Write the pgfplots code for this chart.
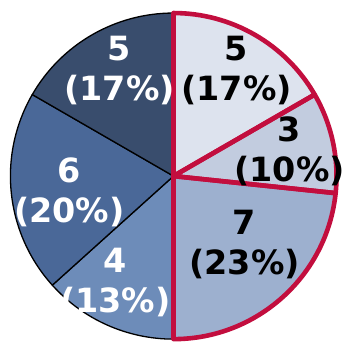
\documentclass[border=0pt]{standalone}
\usepackage{pgfplots}
\usepackage{pgfplotstable}
\pgfplotsset{compat=1.18}
\usepackage{fontspec}
\setmainfont{DejaVu Sans}

\definecolor{pie0}{HTML}{DDE3EE}
\definecolor{pie1}{HTML}{C2CCDF}
\definecolor{pie2}{HTML}{9DB0CF}
\definecolor{pie3}{HTML}{6D8CB9}
\definecolor{pie4}{HTML}{4A6898}
\definecolor{pie5}{HTML}{394D6D}
\definecolor{crimson}{HTML}{C20E3E}

% slice values, clockwise from 12 o'clock; label centre (lx,ly) in radii,
% hl = 1 for the outlined group
\pgfplotstableread{
value lx     ly     hl
5      0.387  0.650 1
3      0.712  0.150 1
7      0.436 -0.420 1
4     -0.356 -0.655 0
6     -0.638 -0.100 0
5     -0.331  0.645 0
}\piedata

\newcommand\pieR{163bp}

\begin{document}
\begin{tikzpicture}
% cumulative angles and shares, computed from the table
\pgfplotstablegetrowsof{\piedata}
\pgfmathtruncatemacro\pieN{\pgfplotsretval-1}
\def\pieTotal{0}
\pgfplotsforeachungrouped \i in {0,...,\pieN}{%
  \pgfplotstablegetelem{\i}{value}\of\piedata
  \pgfmathsetmacro\pieTotal{\pieTotal+\pgfplotsretval}%
}
\def\pieAngle{90}
\pgfplotsforeachungrouped \i in {0,...,\pieN}{%
  \pgfplotstablegetelem{\i}{value}\of\piedata \let\pieVal\pgfplotsretval
  \pgfmathsetmacro\pieEnd{\pieAngle-360*\pieVal/\pieTotal}%
  \pgfmathtruncatemacro\piePct{round(100*\pieVal/\pieTotal)}%
  \expandafter\xdef\csname pieS\i\endcsname{\pieAngle}%
  \expandafter\xdef\csname pieE\i\endcsname{\pieEnd}%
  \expandafter\xdef\csname pieV\i\endcsname{\pieVal}%
  \expandafter\xdef\csname pieP\i\endcsname{\piePct}%
  \pgfplotstablegetelem{\i}{lx}\of\piedata
  \expandafter\xdef\csname pieLX\i\endcsname{\pgfplotsretval}%
  \pgfplotstablegetelem{\i}{ly}\of\piedata
  \expandafter\xdef\csname pieLY\i\endcsname{\pgfplotsretval}%
  \pgfplotstablegetelem{\i}{hl}\of\piedata
  \expandafter\xdef\csname pieH\i\endcsname{\pgfplotsretval}%
  \let\pieAngle\pieEnd
}
\begin{axis}[
  hide axis,
  x=\pieR, y=\pieR,
  xmin=-1.064, xmax=1.052,
  ymin=-1.018, ymax=1.080,
  clip=false,
]
% wedges
\pgfplotsinvokeforeach{0,...,5}{
  \fill[pie#1, draw=black, line width=1.3bp, line join=round]
    (axis cs:0,0) -- (axis cs:{cos(\csname pieS#1\endcsname)},{sin(\csname pieS#1\endcsname)})
    arc[start angle=\csname pieS#1\endcsname, end angle=\csname pieE#1\endcsname, radius=\pieR]
    -- cycle;
}
% outlined group
\pgfplotsinvokeforeach{0,...,5}{
  \ifnum\csname pieH#1\endcsname=1
  \draw[crimson, line width=4.6bp, line join=round]
    (axis cs:0,0) -- (axis cs:{cos(\csname pieS#1\endcsname)},{sin(\csname pieS#1\endcsname)})
    arc[start angle=\csname pieS#1\endcsname, end angle=\csname pieE#1\endcsname, radius=\pieR]
    -- cycle;
  \fi
}
% value and share labels
\pgfplotsinvokeforeach{0,...,5}{
  \node[align=center, font=\fontsize{33.5}{40}\selectfont\bfseries,
        text=\ifnum#1<3 black\else white\fi]
    at (axis cs:{\csname pieLX#1\endcsname},{\csname pieLY#1\endcsname})
    {\csname pieV#1\endcsname\\(\csname pieP#1\endcsname\%)};
}
\coordinate (frameLL) at (axis cs:-1.064,-1.018);
\coordinate (frameUR) at (axis cs:1.052,1.080);
\end{axis}
\pgfresetboundingbox
\path[use as bounding box] (frameLL) rectangle (frameUR);
\end{tikzpicture}
\end{document}
